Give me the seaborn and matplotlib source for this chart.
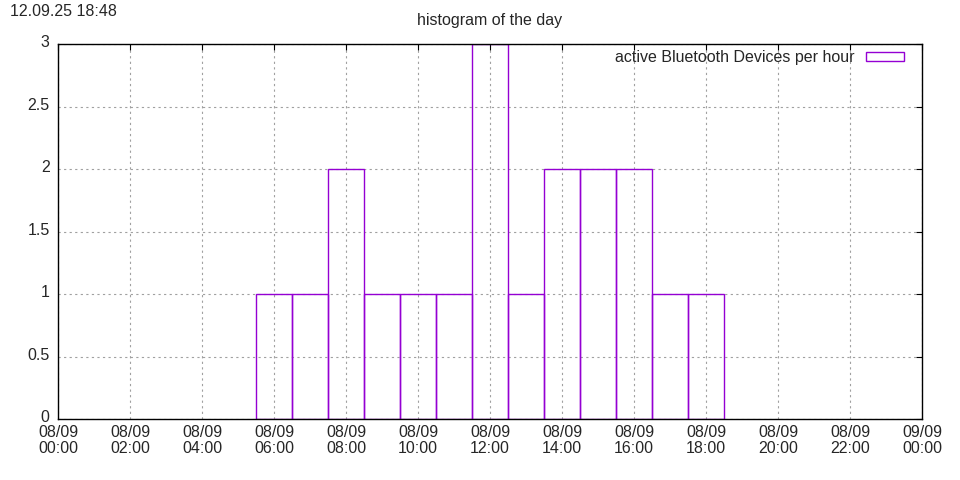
import matplotlib
matplotlib.use("Agg")
import matplotlib.pyplot as plt
import matplotlib.transforms as mtransforms
import seaborn as sns
import pandas as pd
from matplotlib.patches import Patch

hours = [6, 7, 8, 9, 10, 11, 12, 13, 14, 15, 16, 17, 18]
counts = [1, 1, 2, 1, 1, 1, 3, 1, 2, 2, 2, 1, 1]
xtick_labels = ["08/09\n00:00", "08/09\n02:00", "08/09\n04:00", "08/09\n06:00",
                "08/09\n08:00", "08/09\n10:00", "08/09\n12:00", "08/09\n14:00",
                "08/09\n16:00", "08/09\n18:00", "08/09\n20:00", "08/09\n22:00",
                "09/09\n00:00"]
ytick_labels = ["0", "0.5", "1", "1.5", "2", "2.5", "3"]
title = "histogram of the day"
stamp = "12.09.25 18:48"
legend_label = "active Bluetooth Devices per hour"

sns.set_style("white")
plt.rcParams['font.family'] = ['Liberation Sans', 'DejaVu Sans']
fs = 11.5

df = pd.DataFrame({"hour": hours, "count": counts})
color = "#9400d3"

fig = plt.figure(figsize=(9.6, 4.8), dpi=100)
ax = fig.add_axes([58/960, 1-419/480, (922-58)/960, (419-44)/480])

edges = [h - 0.5 for h in hours] + [hours[-1] + 0.5]
sns.histplot(data=df, x="hour", weights="count", bins=edges, element="bars",
             fill=False, color=color, linewidth=1.0, ax=ax)

ax.set_xlim(0, 24)
ax.set_ylim(0, 3)
ax.set_xticks(range(0, 25, 2))
ax.set_xticklabels(xtick_labels, linespacing=1.15)
ax.set_yticks([0, 0.5, 1, 1.5, 2, 2.5, 3])
ax.set_yticklabels(ytick_labels)
ax.set_xlabel("")
ax.set_ylabel("")
ax.grid(True, color="#a0a0a0", linestyle=(0, (2, 3)), linewidth=0.8)
ax.set_axisbelow(True)
ax.tick_params(direction="in", length=4, top=True, right=True, color="black",
               labelsize=fs)
ax.tick_params(axis="x", pad=4)
ax.tick_params(axis="y", pad=6)
up = mtransforms.ScaledTranslation(0, 2/72, fig.dpi_scale_trans)
for lab in ax.get_yticklabels():
    lab.set_transform(lab.get_transform() + up)
for s in ax.spines.values():
    s.set_color("black")
    s.set_linewidth(1.0)
    s.set_zorder(5)

handle = Patch(facecolor="none", edgecolor=color, linewidth=1.0)
leg = ax.legend([handle], [legend_label], loc="upper right", frameon=False,
                fontsize=fs, markerfirst=False, handlelength=2.4, handleheight=0.45,
                handletextpad=0.7, borderaxespad=0.0, bbox_to_anchor=(0.987, 1.0))

fig.text(490/960, 1-20/480, title, ha="center", va="center", fontsize=fs)
fig.text(10/960, 1-12/480, stamp, ha="left", va="center", fontsize=fs)

fig.savefig("out.png", dpi=100)
